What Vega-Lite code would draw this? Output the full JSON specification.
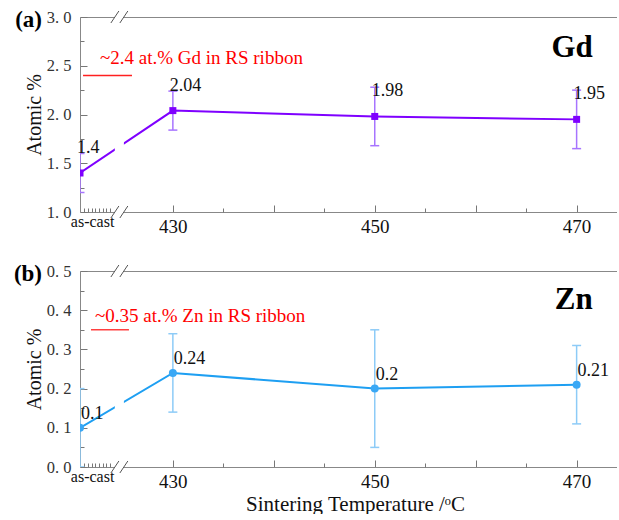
{
  "$schema": "https://vega.github.io/schema/vega-lite/v6.json",
  "background": "white",
  "padding": {"left": 13, "top": 9, "right": 0, "bottom": 0},
  "config": {
    "view": {"stroke": null},
    "font": "Liberation Serif",
    "axis": {"labelFont": "Liberation Serif", "titleFont": "Liberation Serif", "grid": false, "labelFlush": false, "labelOverlap": false},
    "text": {"font": "Liberation Serif"}
  },
  "datasets": {
    "gd": [
      {"T": 420.8, "v": 1.4, "lo": 1.2, "hi": 1.6},
      {"T": 430, "v": 2.04, "lo": 1.84, "hi": 2.24},
      {"T": 450, "v": 1.98, "lo": 1.68, "hi": 2.28},
      {"T": 470, "v": 1.95, "lo": 1.65, "hi": 2.25}
    ],
    "zn": [
      {"T": 420.8, "v": 0.1, "lo": 0.0, "hi": 0.2},
      {"T": 430, "v": 0.24, "lo": 0.14, "hi": 0.34},
      {"T": 450, "v": 0.2, "lo": 0.05, "hi": 0.35},
      {"T": 470, "v": 0.21, "lo": 0.11, "hi": 0.31}
    ],
    "one": [{}]
  },
  "spacing": 27,
  "vconcat": [
    {
      "width": 537,
      "height": 195,
      "data": {"name": "gd"},
      "resolve": {"axis": {"x": "independent", "y": "independent"}},
      "layer": [
        {
          "mark": {"type": "rule", "color": "#A774FF", "strokeWidth": 1.5, "clip": true},
          "encoding": {
            "x": {"field": "T", "type": "quantitative", "scale": {"domain": [420.8, 474], "nice": false, "zero": false},
              "axis": {"orient": "bottom", "values": [422, 430, 450, 470], "ticks": false, "domain": false, "title": null,
                "labelExpr": "datum.value < 425 ? 'as-cast' : format(datum.value, 'd')",
                "labelFontSize": {"condition": {"test": "datum.value < 425", "value": 16}, "value": 19},
                "labelPadding": {"condition": {"test": "datum.value < 425", "value": 1}, "value": 5},
                "labelColor": "#111"}},
            "y": {"field": "lo", "type": "quantitative", "scale": {"domain": [1, 3], "nice": false, "zero": false},
              "axis": {"orient": "left", "values": [1, 1.5, 2, 2.5, 3], "ticks": false, "domain": false,
                "labelExpr": "replace(format(datum.value, '.1f'), '.', '. ')",
                "labelFontSize": 16.5, "labelColor": "#333", "labelPadding": 9,
                "title": "Atomic %", "titleFontSize": 20, "titleFontWeight": "normal", "titleColor": "#111", "titlePadding": 2}},
            "y2": {"field": "hi"}
          }
        },
        {
          "mark": {"type": "tick", "orient": "horizontal", "size": 9, "thickness": 1.5, "color": "#A774FF", "opacity": 1, "clip": true},
          "encoding": {
            "x": {"field": "T", "type": "quantitative",
              "axis": {"orient": "bottom", "values": [430, 440, 450, 460, 470], "labels": false, "tickSize": -7, "tickColor": "#777", "domain": true, "domainColor": "#888", "title": null}},
            "y": {"field": "lo", "type": "quantitative",
              "axis": {"orient": "left", "values": [1, 1.5, 2, 2.5, 3], "labels": false, "tickSize": -7, "tickColor": "#777", "domain": true, "domainColor": "#888", "title": null}}
          }
        },
        {
          "mark": {"type": "tick", "orient": "horizontal", "size": 9, "thickness": 1.5, "color": "#A774FF", "opacity": 1, "clip": true},
          "encoding": {
            "x": {"field": "T", "type": "quantitative",
              "axis": {"orient": "bottom", "values": [421.2, 421.57, 421.94, 422.31, 422.68, 423.05, 423.42, 423.79, 435, 445, 455, 465], "labels": false, "tickSize": -4, "tickColor": "#777", "domain": false, "title": null}},
            "y": {"field": "hi", "type": "quantitative",
              "axis": {"orient": "left", "values": [1.25, 1.75, 2.25, 2.75], "labels": false, "tickSize": -4, "tickColor": "#777", "domain": false, "title": null}}
          }
        },
        {
          "mark": {"type": "line", "color": "#7F00FF", "strokeWidth": 2, "clip": true},
          "encoding": {
            "x": {"field": "T", "type": "quantitative",
              "axis": {"orient": "top", "ticks": false, "labels": false, "domain": true, "domainColor": "#888", "title": null}},
            "y": {"field": "v", "type": "quantitative", "axis": null}
          }
        },
        {
          "mark": {"type": "point", "shape": "square", "filled": true, "size": 49, "color": "#7F00FF", "opacity": 1, "clip": true},
          "encoding": {
            "x": {"field": "T", "type": "quantitative", "axis": null},
            "y": {"field": "v", "type": "quantitative", "axis": null}
          }
        },
        {
          "data": {"name": "one"},
          "mark": {"type": "rect", "color": "white"},
          "encoding": {
            "x": {"datum": 424.25, "type": "quantitative", "axis": null},
            "x2": {"datum": 425.15},
            "y": {"datum": 0.975, "type": "quantitative", "axis": null},
            "y2": {"datum": 3.025}
          }
        },
        {
          "data": {"name": "one"},
          "mark": {"type": "point", "shape": "M-1.06,0.75L-0.06,-0.75M0.06,0.75L1.06,-0.75", "size": 256, "filled": false, "stroke": "#555", "strokeWidth": 1, "opacity": 1},
          "encoding": {
            "x": {"datum": 424.7, "type": "quantitative", "axis": null},
            "y": {"datum": 3, "type": "quantitative", "axis": null}
          }
        },
        {
          "data": {"name": "one"},
          "mark": {"type": "point", "shape": "M-1.06,0.75L-0.06,-0.75M0.06,0.75L1.06,-0.75", "size": 256, "filled": false, "stroke": "#555", "strokeWidth": 1, "opacity": 1},
          "encoding": {
            "x": {"datum": 424.7, "type": "quantitative", "axis": null},
            "y": {"datum": 1, "type": "quantitative", "axis": null}
          }
        },
        {
          "data": {"name": "one"},
          "mark": {"type": "rule", "color": "#FF2020", "strokeWidth": 1.5},
          "encoding": {
            "x": {"datum": 421.1, "type": "quantitative", "axis": null},
            "x2": {"datum": 425.95},
            "y": {"datum": 2.4, "type": "quantitative", "axis": null}
          }
        },
        {
          "data": {"name": "one"},
          "mark": {"type": "text", "text": "~2.4 at.% Gd in RS ribbon", "align": "left", "baseline": "alphabetic", "fontSize": 19, "color": "#FF0000"},
          "encoding": {
            "x": {"datum": 422.78, "type": "quantitative", "axis": null},
            "y": {"datum": 2.513, "type": "quantitative", "axis": null}
          }
        },
        {
          "mark": {"type": "text", "align": "left", "baseline": "middle", "dx": -3, "dy": -25, "fontSize": 18, "color": "#111"},
          "encoding": {
            "x": {"field": "T", "type": "quantitative", "axis": null},
            "y": {"field": "v", "type": "quantitative", "axis": null},
            "text": {"field": "v", "type": "quantitative"}
          }
        },
        {
          "data": {"name": "one"},
          "mark": {"type": "text", "text": "Gd", "align": "right", "baseline": "alphabetic", "dy": 40, "fontSize": 31, "fontWeight": "bold", "color": "#000"},
          "encoding": {
            "x": {"datum": 471.6, "type": "quantitative", "axis": null},
            "y": {"datum": 3, "type": "quantitative", "axis": null}
          }
        },
        {
          "data": {"name": "one"},
          "mark": {"type": "text", "text": "(a)", "align": "right", "baseline": "alphabetic", "dx": -38, "dy": 10, "fontSize": 23, "fontWeight": "bold", "color": "#000"},
          "encoding": {
            "x": {"datum": 420.8, "type": "quantitative", "axis": null},
            "y": {"datum": 3, "type": "quantitative", "axis": null}
          }
        }
      ]
    },
    {
      "width": 537,
      "height": 196,
      "data": {"name": "zn"},
      "resolve": {"axis": {"x": "independent", "y": "independent"}},
      "layer": [
        {
          "mark": {"type": "rule", "color": "#8DCBF7", "strokeWidth": 1.5, "clip": true},
          "encoding": {
            "x": {"field": "T", "type": "quantitative", "scale": {"domain": [420.8, 474], "nice": false, "zero": false},
              "axis": {"orient": "bottom", "values": [422, 430, 450, 470], "ticks": false, "domain": false,
                "labelExpr": "datum.value < 425 ? 'as-cast' : format(datum.value, 'd')",
                "labelFontSize": {"condition": {"test": "datum.value < 425", "value": 16}, "value": 19},
                "labelPadding": {"condition": {"test": "datum.value < 425", "value": 1}, "value": 5},
                "labelColor": "#111",
                "title": "Sintering Temperature /ᵒC", "titleFontSize": 21, "titleFontWeight": "normal", "titleColor": "#111", "titlePadding": 2, "titleX": 275}},
            "y": {"field": "lo", "type": "quantitative", "scale": {"domain": [0, 0.5], "nice": false, "zero": false},
              "axis": {"orient": "left", "values": [0, 0.1, 0.2, 0.3, 0.4, 0.5], "ticks": false, "domain": false,
                "labelExpr": "replace(format(datum.value, '.1f'), '.', '. ')",
                "labelFontSize": 16.5, "labelColor": "#333", "labelPadding": 9,
                "title": "Atomic %", "titleFontSize": 20, "titleFontWeight": "normal", "titleColor": "#111", "titlePadding": 2}},
            "y2": {"field": "hi"}
          }
        },
        {
          "mark": {"type": "tick", "orient": "horizontal", "size": 9, "thickness": 1.5, "color": "#8DCBF7", "opacity": 1, "clip": true},
          "encoding": {
            "x": {"field": "T", "type": "quantitative",
              "axis": {"orient": "bottom", "values": [430, 440, 450, 460, 470], "labels": false, "tickSize": -7, "tickColor": "#777", "domain": true, "domainColor": "#888", "title": null}},
            "y": {"field": "lo", "type": "quantitative",
              "axis": {"orient": "left", "values": [0, 0.1, 0.2, 0.3, 0.4, 0.5], "labels": false, "tickSize": -7, "tickColor": "#777", "domain": true, "domainColor": "#888", "title": null}}
          }
        },
        {
          "mark": {"type": "tick", "orient": "horizontal", "size": 9, "thickness": 1.5, "color": "#8DCBF7", "opacity": 1, "clip": true},
          "encoding": {
            "x": {"field": "T", "type": "quantitative",
              "axis": {"orient": "bottom", "values": [421.2, 421.57, 421.94, 422.31, 422.68, 423.05, 423.42, 423.79, 435, 445, 455, 465], "labels": false, "tickSize": -4, "tickColor": "#777", "domain": false, "title": null}},
            "y": {"field": "hi", "type": "quantitative",
              "axis": {"orient": "left", "values": [0.05, 0.15, 0.25, 0.35, 0.45], "labels": false, "tickSize": -4, "tickColor": "#777", "domain": false, "title": null}}
          }
        },
        {
          "mark": {"type": "line", "color": "#1E9FF2", "strokeWidth": 2, "clip": true},
          "encoding": {
            "x": {"field": "T", "type": "quantitative",
              "axis": {"orient": "top", "ticks": false, "labels": false, "domain": true, "domainColor": "#888", "title": null}},
            "y": {"field": "v", "type": "quantitative", "axis": null}
          }
        },
        {
          "mark": {"type": "point", "shape": "circle", "filled": true, "size": 64, "color": "#3AA8F5", "opacity": 1, "clip": true},
          "encoding": {
            "x": {"field": "T", "type": "quantitative", "axis": null},
            "y": {"field": "v", "type": "quantitative", "axis": null}
          }
        },
        {
          "data": {"name": "one"},
          "mark": {"type": "rect", "color": "white"},
          "encoding": {
            "x": {"datum": 424.25, "type": "quantitative", "axis": null},
            "x2": {"datum": 425.15},
            "y": {"datum": -0.005, "type": "quantitative", "axis": null},
            "y2": {"datum": 0.505}
          }
        },
        {
          "data": {"name": "one"},
          "mark": {"type": "point", "shape": "M-1.06,0.75L-0.06,-0.75M0.06,0.75L1.06,-0.75", "size": 256, "filled": false, "stroke": "#555", "strokeWidth": 1, "opacity": 1},
          "encoding": {
            "x": {"datum": 424.7, "type": "quantitative", "axis": null},
            "y": {"datum": 0.5, "type": "quantitative", "axis": null}
          }
        },
        {
          "data": {"name": "one"},
          "mark": {"type": "point", "shape": "M-1.06,0.75L-0.06,-0.75M0.06,0.75L1.06,-0.75", "size": 256, "filled": false, "stroke": "#555", "strokeWidth": 1, "opacity": 1},
          "encoding": {
            "x": {"datum": 424.7, "type": "quantitative", "axis": null},
            "y": {"datum": 0, "type": "quantitative", "axis": null}
          }
        },
        {
          "data": {"name": "one"},
          "mark": {"type": "rule", "color": "#FF4040", "strokeWidth": 1.5},
          "encoding": {
            "x": {"datum": 421.89, "type": "quantitative", "axis": null},
            "x2": {"datum": 425.65},
            "y": {"datum": 0.35, "type": "quantitative", "axis": null}
          }
        },
        {
          "data": {"name": "one"},
          "mark": {"type": "text", "text": "~0.35 at.% Zn in RS ribbon", "align": "left", "baseline": "alphabetic", "fontSize": 19, "color": "#FF0000"},
          "encoding": {
            "x": {"datum": 422.29, "type": "quantitative", "axis": null},
            "y": {"datum": 0.371, "type": "quantitative", "axis": null}
          }
        },
        {
          "mark": {"type": "text", "align": "left", "baseline": "middle", "dx": 1, "dy": -14, "fontSize": 18, "color": "#111"},
          "encoding": {
            "x": {"field": "T", "type": "quantitative", "axis": null},
            "y": {"field": "v", "type": "quantitative", "axis": null},
            "text": {"field": "v", "type": "quantitative"}
          }
        },
        {
          "data": {"name": "one"},
          "mark": {"type": "text", "text": "Zn", "align": "right", "baseline": "alphabetic", "dy": 38, "fontSize": 31, "fontWeight": "bold", "color": "#000"},
          "encoding": {
            "x": {"datum": 471.6, "type": "quantitative", "axis": null},
            "y": {"datum": 0.5, "type": "quantitative", "axis": null}
          }
        },
        {
          "data": {"name": "one"},
          "mark": {"type": "text", "text": "(b)", "align": "right", "baseline": "alphabetic", "dx": -38, "dy": 10, "fontSize": 23, "fontWeight": "bold", "color": "#000"},
          "encoding": {
            "x": {"datum": 420.8, "type": "quantitative", "axis": null},
            "y": {"datum": 0.5, "type": "quantitative", "axis": null}
          }
        }
      ]
    }
  ]
}
